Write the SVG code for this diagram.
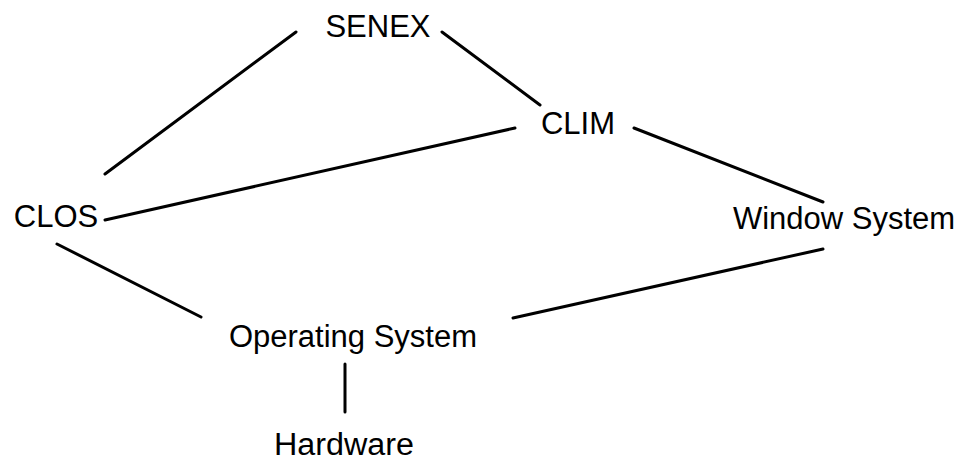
<svg xmlns="http://www.w3.org/2000/svg" width="961" height="463" viewBox="0 0 961 463">
  <style>
    .label { font-family: "Liberation Sans", Arial, Helvetica, sans-serif; font-size: 31px; fill: #000; text-anchor: middle; }
    .edge { stroke: #000; stroke-width: 3; stroke-linecap: round; fill: none; }
  </style>
  <rect width="961" height="463" fill="#fff"/>
  <g id="connectors">
    <line class="edge" x1="296" y1="32" x2="105" y2="174"/>
    <line class="edge" x1="442" y1="32" x2="540" y2="105"/>
    <line class="edge" x1="515" y1="128" x2="105" y2="220"/>
    <line class="edge" x1="634" y1="128" x2="823" y2="202"/>
    <line class="edge" x1="57" y1="244" x2="201" y2="317"/>
    <line class="edge" x1="513" y1="318" x2="823" y2="249"/>
    <line class="edge" x1="345" y1="364" x2="345" y2="412"/>
  </g>
  <g id="senex"><text class="label" x="378" y="37">SENEX</text></g>
  <g id="clim"><text class="label" x="578" y="134">CLIM</text></g>
  <g id="clos"><text class="label" x="56" y="227">CLOS</text></g>
  <g id="window-system"><text class="label" x="844" y="229">Window System</text></g>
  <g id="operating-system"><text class="label" x="353" y="347">Operating System</text></g>
  <g id="hardware"><text class="label" x="344" y="455" textLength="140" lengthAdjust="spacingAndGlyphs">Hardware</text></g>
</svg>
